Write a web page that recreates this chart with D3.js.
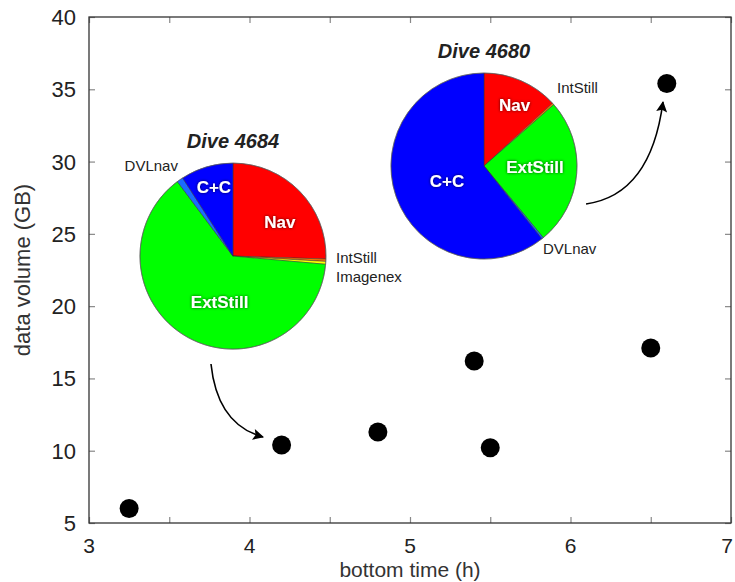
<!DOCTYPE html>
<html>
<head>
<meta charset="utf-8">
<script src="https://cdn.jsdelivr.net/npm/d3@7"></script>
<style>
body { margin: 0; background: #fff; }
text { font-family: "Liberation Sans", Arial, Helvetica, sans-serif; }
</style>
</head>
<body>
<div class="chart"></div>
<script>
// data
var bottomTime = [3.25, 4.2, 4.8, 5.4, 5.5, 6.5, 6.6];
var dataVolume = [6.0, 10.4, 11.3, 16.2, 10.2, 17.1, 35.4];
var xTicks = [3, 4, 5, 6, 7];
var xMinorTicks = [3.5, 4.5, 5.5, 6.5];
var yTicks = [5, 10, 15, 20, 25, 30, 35, 40];

var sliceNames = ["Nav", "IntStill", "Imagenex", "ExtStill", "DVLnav", "C+C"];
var dive4684 = [25.5, 0.4, 0.5, 63.4, 1.1, 9.1];
var dive4680 = [13.2, 0.3, 0.0, 25.5, 0.3, 60.7];
var sliceColors = ["#ff0000", "#ff7a00", "#ffff00", "#00ff00", "#1a6cff", "#0000ff"];

var svg_w = 735, svg_h = 582;
var pLeft = 89, pRight = 731, pTop = 17, pBottom = 523;

var svg = d3.select("div.chart").append("svg")
.attr("width", svg_w)
.attr("height", svg_h);

var x = d3.scaleLinear().domain([3, 7]).range([pLeft, pRight]);
var y = d3.scaleLinear().domain([5, 40]).range([pBottom, pTop]);

// glow for white labels
var defs = svg.append("defs");
var f = defs.append("filter").attr("id", "glow").attr("x", "-20%").attr("y", "-40%").attr("width", "140%").attr("height", "180%");
f.append("feDropShadow").attr("dx", 0).attr("dy", 0).attr("stdDeviation", 1.6)
.attr("flood-color", "#000").attr("flood-opacity", 0.75);

defs.append("marker")
.attr("id", "head")
.attr("viewBox", "0 0 10 10")
.attr("refX", 9).attr("refY", 5)
.attr("markerWidth", 14).attr("markerHeight", 11)
.attr("markerUnits", "userSpaceOnUse")
.attr("orient", "auto")
.append("path")
.attr("d", "M0,0 L10,5 L0,10 L2,5 Z")
.attr("fill", "#000");

// axes, ticks inward
var axisColor = "#333";
svg.append("g").attr("transform", "translate(0," + pBottom + ")")
.call(d3.axisBottom(x).tickValues(xTicks.concat(xMinorTicks)).tickSize(-6).tickFormat(""))
.call(g => g.select(".domain").remove());
svg.append("g").attr("transform", "translate(0," + pTop + ")")
.call(d3.axisTop(x).tickValues(xTicks.concat(xMinorTicks)).tickSize(-6).tickFormat(""))
.call(g => g.select(".domain").remove());
svg.append("g").attr("transform", "translate(" + pLeft + ",0)")
.call(d3.axisLeft(y).tickValues(yTicks).tickSize(-6).tickFormat(""))
.call(g => g.select(".domain").remove());
svg.append("g").attr("transform", "translate(" + pRight + ",0)")
.call(d3.axisRight(y).tickValues(yTicks).tickSize(-6).tickFormat(""))
.call(g => g.select(".domain").remove());
svg.selectAll(".tick line").attr("stroke", "#888").attr("stroke-width", 1.2);

svg.append("rect")
.attr("x", pLeft).attr("y", pTop)
.attr("width", pRight - pLeft).attr("height", pBottom - pTop)
.attr("fill", "none").attr("stroke", axisColor).attr("stroke-width", 1.3);

svg.selectAll("text.xt")
.data(xTicks).enter().append("text")
.attr("x", d => Math.min(x(d), svg_w - 8)).attr("y", pBottom + 29.5)
.attr("text-anchor", "middle")
.attr("font-size", "21px").attr("fill", "#222")
.text(d => d);

svg.selectAll("text.yt")
.data(yTicks).enter().append("text")
.attr("x", pLeft - 13).attr("y", d => y(d) + 8)
.attr("text-anchor", "end")
.attr("font-size", "22px").attr("fill", "#222")
.text(d => d);

svg.append("text")
.attr("x", (pLeft + pRight) / 2).attr("y", 577)
.attr("text-anchor", "middle").attr("font-size", "21px").attr("fill", "#333")
.text("bottom time (h)");

svg.append("text")
.attr("transform", "translate(30," + ((pTop + pBottom) / 2) + ") rotate(-90)")
.attr("text-anchor", "middle").attr("font-size", "22px").attr("fill", "#333")
.text("data volume (GB)");

// points
svg.selectAll("circle.pt")
.data(bottomTime).enter().append("circle")
.attr("cx", d => x(d))
.attr("cy", (d, i) => y(dataVolume[i]))
.attr("r", 9.5)
.attr("fill", "#000");

// pies
var pie = d3.pie().sort(null).value(d => d);
var R = 93;
var arc = d3.arc().innerRadius(0).outerRadius(R);

function drawPie(vals, cxv, cyv, title, inner, outer) {
	var cx = x(cxv), cy = y(cyv);
	var g = svg.append("g").attr("transform", "translate(" + cx + "," + cy + ")");
	var arcs = pie(vals);
	g.selectAll("path")
	.data(arcs.filter(a => a.value > 0)).enter().append("path")
	.attr("d", arc)
	.attr("fill", d => sliceColors[d.index])
	.attr("stroke", "#333").attr("stroke-width", 0.5);
	g.append("circle").attr("r", R).attr("fill", "none").attr("stroke", "#666").attr("stroke-width", 0.6);

	g.append("text")
	.attr("x", 0).attr("y", -R - 15)
	.attr("text-anchor", "middle")
	.attr("font-size", "20px").attr("font-weight", "bold").attr("font-style", "italic")
	.attr("fill", "#222")
	.text(title);

	inner.forEach(function(l) {
		var a = arcs[l[0]];
		var ang = (a.startAngle + a.endAngle) / 2 + l[2] * Math.PI / 180;
		g.append("text")
		.attr("x", Math.sin(ang) * l[1])
		.attr("y", -Math.cos(ang) * l[1] + 6)
		.attr("text-anchor", "middle")
		.attr("font-size", "17px").attr("font-weight", "bold")
		.attr("fill", "#fff").attr("filter", "url(#glow)")
		.text(sliceNames[l[0]]);
	});
	outer.forEach(function(l) {
		g.append("text")
		.attr("x", l[1]).attr("y", l[2] + 5)
		.attr("text-anchor", l[3])
		.attr("font-size", "15px").attr("fill", "#222")
		.text(sliceNames[l[0]]);
	});
}

// inner labels: [slice, radius, angle shift]; outer: [slice, dx, dy, anchor]
drawPie(dive4684, 3.897, 23.46, "Dive 4684",
	[[0, 58, 8], [5, 72, 1], [3, 48, -13]],
	[[4, -55, -90, "end"], [1, 103, 2, "start"], [2, 103, 21, "start"]]);
drawPie(dive4680, 5.461, 29.69, "Dive 4680",
	[[0, 68, 3], [3, 51, -3], [5, 40, -3]],
	[[1, 73, -78, "start"], [4, 59, 83, "start"]]);

// arrows
function arrow(x0, y0, cx, cy, x1, y1) {
	svg.append("path")
	.attr("d", "M" + x(x0) + "," + y(y0) + " Q" + x(cx) + "," + y(cy) + " " + x(x1) + "," + y(y1))
	.attr("fill", "none").attr("stroke", "#000").attr("stroke-width", 1.6)
	.attr("marker-end", "url(#head)");
}
arrow(3.76, 16.0, 3.80, 11.8, 4.084, 10.95);
arrow(6.097, 27.07, 6.50, 27.7, 6.576, 34.12);
</script>
</body>
</html>
